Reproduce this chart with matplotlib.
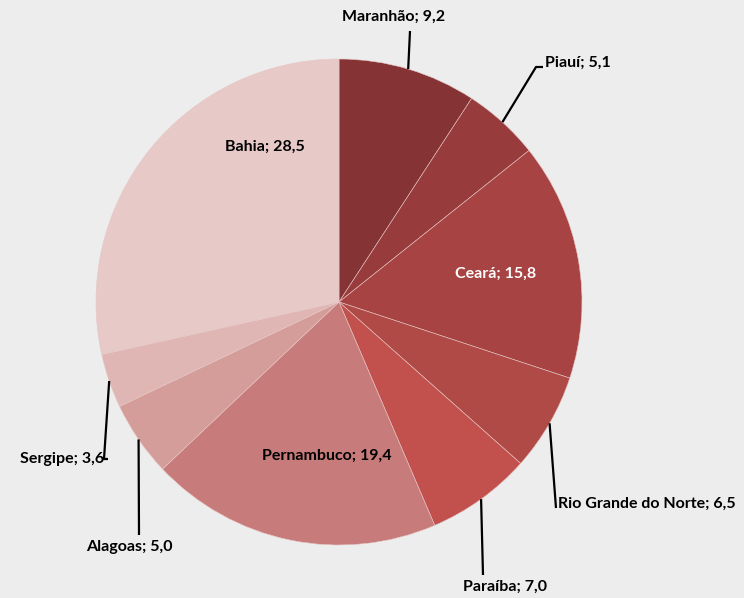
import matplotlib.pyplot as plt
import numpy as np

plt.rcParams['font.family'] = ['Lato', 'DejaVu Sans']

estados = ['Maranhão', 'Piauí', 'Ceará', 'Rio Grande do Norte', 'Paraíba',
           'Pernambuco', 'Alagoas', 'Sergipe', 'Bahia']
valores = [9.2, 5.1, 15.8, 6.5, 7.0, 19.4, 5.0, 3.6, 28.5]
cores = ['#863335', '#973b3c', '#a74443', '#b04a46', '#c2514d',
         '#c77b7a', '#d59d99', '#dfb6b3', '#e7cac8']

W, H = 744, 598
fig = plt.figure(figsize=(W / 100, H / 100), dpi=100)
fig.patch.set_facecolor('#ecedec')
ax = fig.add_axes([0, 0, 1, 1])
ax.set_xlim(0, W)
ax.set_ylim(0, H)
ax.set_aspect('equal')
ax.axis('off')

cx, cy, r = 339, H - 302, 243
wedges, _ = ax.pie(valores, colors=cores, startangle=90, counterclock=False,
                   center=(cx, cy), radius=r,
                   wedgeprops=dict(edgecolor='#e6c6c4', linewidth=0.4))
ax.set_xlim(0, W)
ax.set_ylim(0, H)

def rotulo(i):
    return f"{estados[i]}; {valores[i]:.1f}".replace('.', ',')

def ponto(i):
    w = wedges[i]
    a = np.deg2rad((w.theta1 + w.theta2) / 2)
    return cx + r * np.cos(a), cy + r * np.sin(a)

# rotulos internos: (indice, x, y, cor)
internos = [(8, 265, 147, 'black'), (2, 496, 274, 'white'), (5, 327, 456, 'black')]
for i, x, y, c in internos:
    ax.text(x, H - y, rotulo(i), color=c, fontsize=11.5, fontweight='bold',
            ha='center', va='center')

# rotulos externos: (indice, pontos da linha, posicao do texto, ha)
externos = [
    (0, [(410, 31)], (394, 17), 'center'),
    (1, [(536, 67), (543, 67)], (545, 63), 'left'),
    (3, [(556, 508)], (558, 504), 'left'),
    (4, [(483, 575)], (505, 587), 'center'),
    (6, [(139, 535)], (129, 547), 'center'),
    (7, [(104, 459), (108, 459)], (104, 459), 'right'),
]
for i, pts, (tx, ty), ha in externos:
    x0, y0 = ponto(i)
    xs = [x0] + [p[0] for p in pts]
    ys = [y0] + [H - p[1] for p in pts]
    ax.plot(xs, ys, color='black', linewidth=1.6, solid_capstyle='butt')
    ax.text(tx, H - ty, rotulo(i), color='black', fontsize=11.5, fontweight='bold',
            ha=ha, va='center')

plt.savefig('out.png', dpi=100, facecolor=fig.get_facecolor())
